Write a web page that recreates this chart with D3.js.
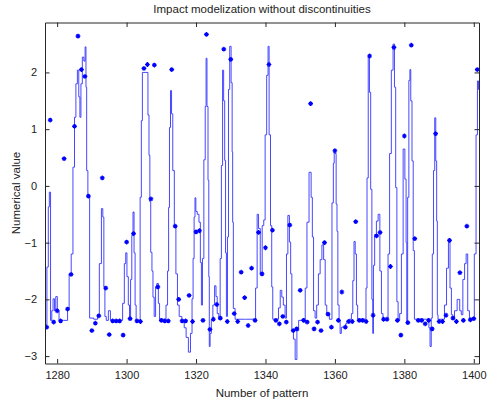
<!DOCTYPE html>
<html>
<head>
<meta charset="utf-8">
<script src="https://cdn.jsdelivr.net/npm/d3@7"></script>
<style>
html,body{margin:0;padding:0;background:#fff;}
svg{display:block;}
text{font-family:"Liberation Sans",Arial,Helvetica,sans-serif;fill:#222;}
</style>
</head>
<body>
<svg id="chart" width="493" height="408"></svg>
<script>
// ---- data ----
const titleText = "Impact modelization without discontinuities";
const xLabel = "Number of pattern";
const yLabel = "Numerical value";
const xTicks = [1280, 1300, 1320, 1340, 1360, 1380, 1400];
const yTicks = [-3, -2, -1, 0, 1, 2];
const xDomain = [1276.5, 1401.5];
const yDomain = [-3.13, 2.88];

// markers: one per pattern, 1277..1401
const patternStart = 1277;
const markerValues = [
 -2.49, 1.16, -2.40, -2.20, -2.38, 0.48, -2.17, -1.56, 1.05, 2.64,
  2.05, 1.93, -0.18, -2.55, -2.42, -2.29, 0.14, -1.80, -2.62, -2.38,
 -2.38, -2.38, -2.63, -0.99, -2.34, -0.84, -2.38, -2.39, 2.07, 2.14,
 -0.23, 2.13, -1.78, -2.37, -2.38, -2.38, 2.05, -0.71, -2.00, -2.38,
 -2.38, -1.93, -2.39, -0.81, -0.79, -2.37, 2.67, -2.53, -2.35, -2.09,
 -2.33, 2.41, -2.39, 2.23, -2.25, -2.39, -1.52, -1.97, -2.46, -1.45,
 -2.37, -0.82, -1.55, -1.09, 2.14, -0.78, -2.37, -2.43, -2.30, -2.40,
 -0.69, -2.55, -2.52, -1.84, -2.37, -2.40, 1.45, -2.52, -2.40, -2.55,
 -1.00, -2.26, -2.49, 0.62, -2.37, -1.87, -2.49, -2.39, -2.39, -0.63,
 -2.37, -2.37, -2.39, 2.29, -2.28, -0.88, -0.82, -2.35, -2.35, -1.42,
  2.44, -2.37, -2.63, 0.88, -2.41, 2.48, -0.93, -2.37, -2.37, -2.43,
 -2.37, -2.52, 0.92, -2.39, -2.39, -2.28, -0.96, -2.33, -2.39, -1.53,
 -2.37, -0.71, -2.36, -2.34, 2.05
];
const markerPatterns = markerValues.map((_, i) => patternStart + i);

// model line
const lineX = [
 1276.5,1276.8,1277.3,1277.6,1277.9,1278.3,1278.6,1279.05,1279.4,1279.8,1280.3,1280.8,1282.9,1283.1,1283.8,1284.3,1284.8,1285.2,1285.6,1286.05,
 1286.4,1286.7,1287.0,1287.5,1287.9,1288.2,1288.4,1288.6,1289.1,1289.6,1291.5,1291.8,1292.5,1293.0,1293.3,1293.6,1293.9,1294.4,1295.1,1295.6,
 1298.6,1299.1,1299.6,1299.9,1300.3,1300.7,1301.0,1301.3,1301.7,1302.0,1302.3,1302.6,1302.9,1303.7,1304.1,1304.4,1304.7,1306.0,1306.3,1306.6,
 1306.8,1307.1,1307.5,1307.7,1308.2,1308.5,1308.9,1309.4,1309.6,1311.1,1311.6,1312.0,1312.2,1312.5,1312.8,1313.1,1313.5,1314.0,1314.4,1314.9,
 1315.4,1316.4,1316.8,1317.5,1318.1,1318.7,1319.0,1319.3,1319.6,1319.8,1320.1,1320.6,1321.1,1321.4,1321.7,1322.0,1322.5,1322.8,1323.0,1323.3,
 1323.6,1323.75,1323.9,1324.2,1324.6,1325.1,1325.6,1325.9,1326.3,1326.8,1327.1,1327.5,1327.8,1328.1,1328.4,1328.6,1328.9,1329.2,1329.5,1329.9,
 1330.3,1330.5,1330.6,1330.9,1331.6,1336.9,1337.4,1337.8,1338.2,1338.8,1339.3,1339.7,1340.1,1340.6,1340.9,1341.2,1341.7,1341.9,1342.3,1343.5,
 1344.0,1344.5,1344.9,1345.4,1345.9,1346.2,1346.7,1347.1,1347.4,1347.8,1348.3,1348.8,1349.3,1349.8,1351.2,1351.7,1352.2,1352.9,1353.4,1353.6,
 1354.1,1354.5,1355.0,1355.5,1356.0,1356.5,1357.0,1357.4,1357.9,1358.9,1359.4,1359.7,1359.9,1360.2,1360.5,1360.7,1361.0,1361.4,1361.6,1362.1,
 1362.9,1363.3,1363.6,1364.5,1365.0,1365.3,1365.7,1366.0,1366.4,1366.7,1368.8,1369.1,1369.4,1369.8,1370.1,1370.5,1370.8,1371.0,1371.2,1371.7,
 1372.2,1372.7,1373.2,1373.6,1374.1,1375.1,1375.5,1376.0,1376.5,1377.0,1377.3,1377.7,1378.0,1378.4,1378.9,1379.4,1379.9,1380.4,1380.6,1380.8,
 1381.1,1381.5,1381.7,1382.0,1382.4,1382.7,1383.1,1386.95,1387.2,1387.6,1387.9,1388.2,1388.6,1388.9,1389.2,1389.4,1389.6,1389.8,1391.3,1391.8,
 1392.5,1392.9,1393.4,1393.7,1394.2,1394.7,1395.7,1396.2,1396.6,1397.1,1397.6,1398.0,1398.5,1399.0,1399.9,1400.4,1400.9,1401.2,1401.5
];
const lineY = [
 -1.95,-2.45,-1.43,-0.37,-0.11,-2.37,-2.2,-1.99,-2.2,-1.95,-2.2,-2.37,-2.37,-2.17,-1.56,-1.2,0.33,1.21,1.8,2.04,
 1.57,1.21,1.8,2.27,2.2,2.45,1.74,0.27,-0.2,-2.33,-2.35,-2.28,-1.37,-0.4,-0.55,-1.78,-2.3,-2.37,-2.2,-2.37,
 -2.37,-2.07,-1.37,-1.18,-1.6,-2.1,-2.33,-1.65,-0.87,-0.46,-1.18,-2.1,-2.37,-2.37,-0.2,1.15,2.0,2.0,1.25,0.54,
 -0.28,-1.17,-1.5,-1.96,-2.3,-1.78,-1.72,-2.07,-2.35,-2.35,-2.1,-1.5,-0.38,1.03,1.68,1.27,0.27,-0.73,-1.55,-2.1,
 -2.3,-2.37,-2.5,-2.67,-2.93,-2.6,-1.99,-1.28,-0.55,-0.21,-0.45,-0.5,-0.64,-1.35,-2.1,-1.28,0.46,1.4,2.25,1.4,
 0.1,-1.6,-2.83,-2.6,-2.35,-2.1,-1.76,-1.95,-2.25,-2.35,-1.28,0.36,2.04,1.5,0.45,-1.18,-2.3,-0.9,1.7,2.46,
 1.82,0.6,-0.64,-2.16,-2.35,-2.35,-1.8,-0.5,-0.75,-1.55,-0.7,-0.6,0.9,1.95,2.46,0.9,-0.7,-1.78,-2.35,-2.35,
 -2.15,-1.84,-1.96,-2.1,-2.33,-1.2,-0.52,-0.99,-1.55,-2.55,-2.7,-3.06,-2.55,-2.37,-2.35,-1.8,-0.64,0.24,-0.2,-0.9,
 -2.2,-2.33,-2.1,-1.55,-1.3,-1.04,-1.3,-2.1,-2.25,-2.35,-0.3,0.4,0.64,0.57,-0.32,-0.8,-2.1,-2.37,-2.6,-2.49,
 -2.49,-2.43,-2.37,-2.35,-2.25,-1.67,-0.98,-1.2,-2.1,-2.35,-2.35,-1.8,0.14,2.3,1.65,-0.06,-2.0,-2.6,-1.4,-0.86,
 -0.62,-0.5,-1.5,-2.25,-2.35,-2.35,-1.2,0.57,2.04,2.5,1.74,-0.03,-2.04,-2.37,-2.25,-1.2,0.65,0.12,-1.0,-2.4,
 -0.2,1.86,2.05,1.5,0.44,-1.14,-2.35,-2.35,-2.5,-2.83,-2.33,-1.2,0.27,1.2,0.44,-0.62,-2.27,-2.35,-2.35,-2.1,
 -1.45,-0.99,-1.8,-2.27,-2.33,-2.2,-2.0,-2.2,-2.27,-1.65,-1.37,-1.2,-2.2,-2.33,-2.33,-1.2,0.9,1.85,1.7
];

// ---- drawing ----
const W = 493, H = 408;
const plot = {left: 45, right: 479, top: 22.5, bottom: 363.5};
const svg = d3.select("#chart");

const x = d3.scaleLinear().domain(xDomain).range([plot.left, plot.right]);
const y = d3.scaleLinear().domain(yDomain).range([plot.bottom, plot.top]);

svg.append("rect").attr("width", W).attr("height", H).attr("fill", "#fff");

svg.append("defs").append("clipPath").attr("id", "clip")
  .append("rect").attr("x", plot.left).attr("y", plot.top)
  .attr("width", plot.right - plot.left).attr("height", plot.bottom - plot.top);

const g = svg.append("g").attr("clip-path", "url(#clip)");

const lineData = lineX.map((v, i) => [v, lineY[i]]);
g.append("path")
  .datum(lineData)
  .attr("fill", "none")
  .attr("stroke", "#3333ff")
  .attr("stroke-width", 0.9)
  .attr("d", d3.line().curve(d3.curveStep).x(d => x(d[0])).y(d => y(d[1])));

const star = "M-2.4,0H2.4M0,-2.4V2.4M-1.6,-1.6L1.6,1.6M-1.6,1.6L1.6,-1.6";
g.selectAll("path.mk")
  .data(markerPatterns.map((p, i) => [p, markerValues[i]]))
  .join("path")
  .attr("class", "mk")
  .attr("transform", d => `translate(${x(d[0])},${y(d[1])})`)
  .attr("d", star)
  .attr("fill", "none")
  .attr("stroke", "#0000ff")
  .attr("stroke-width", 1.2);

// axes (MATLAB-style box with inward ticks)
const tickLen = 4.5;
const axisColor = "#262626";
const axB = d3.axisBottom(x).tickValues(xTicks).tickSizeInner(-tickLen).tickSizeOuter(0).tickPadding(8).tickFormat(d3.format("d"));
const axT = d3.axisTop(x).tickValues(xTicks).tickSizeInner(-tickLen).tickSizeOuter(0).tickFormat("");
const axL = d3.axisLeft(y).tickValues(yTicks).tickSizeInner(-tickLen).tickSizeOuter(0).tickPadding(8).tickFormat(d3.format("d"));
const axR = d3.axisRight(y).tickValues(yTicks).tickSizeInner(-tickLen).tickSizeOuter(0).tickFormat("");

function style(sel) {
  sel.select(".domain").attr("stroke", axisColor).attr("stroke-width", 1);
  sel.selectAll(".tick line").attr("stroke", axisColor).attr("stroke-width", 1);
  sel.selectAll(".tick text").attr("font-size", 11).attr("fill", "#222")
     .attr("font-family", "'Liberation Sans', Arial, sans-serif");
}
svg.append("g").attr("transform", `translate(0,${plot.bottom})`).call(axB).call(style);
svg.append("g").attr("transform", `translate(0,${plot.top})`).call(axT).call(style);
svg.append("g").attr("transform", `translate(${plot.left},0)`).call(axL).call(style);
svg.append("g").attr("transform", `translate(${plot.right},0)`).call(axR).call(style);

// titles
const cx = (plot.left + plot.right) / 2;
svg.append("text").attr("x", cx).attr("y", 13).attr("text-anchor", "middle")
  .attr("font-size", 11.5).text(titleText);
svg.append("text").attr("x", cx).attr("y", 397).attr("text-anchor", "middle")
  .attr("font-size", 11.5).text(xLabel);
svg.append("text").attr("transform", `translate(20,${(plot.top + plot.bottom) / 2}) rotate(-90)`)
  .attr("text-anchor", "middle").attr("font-size", 11.5).text(yLabel);
</script>
</body>
</html>
